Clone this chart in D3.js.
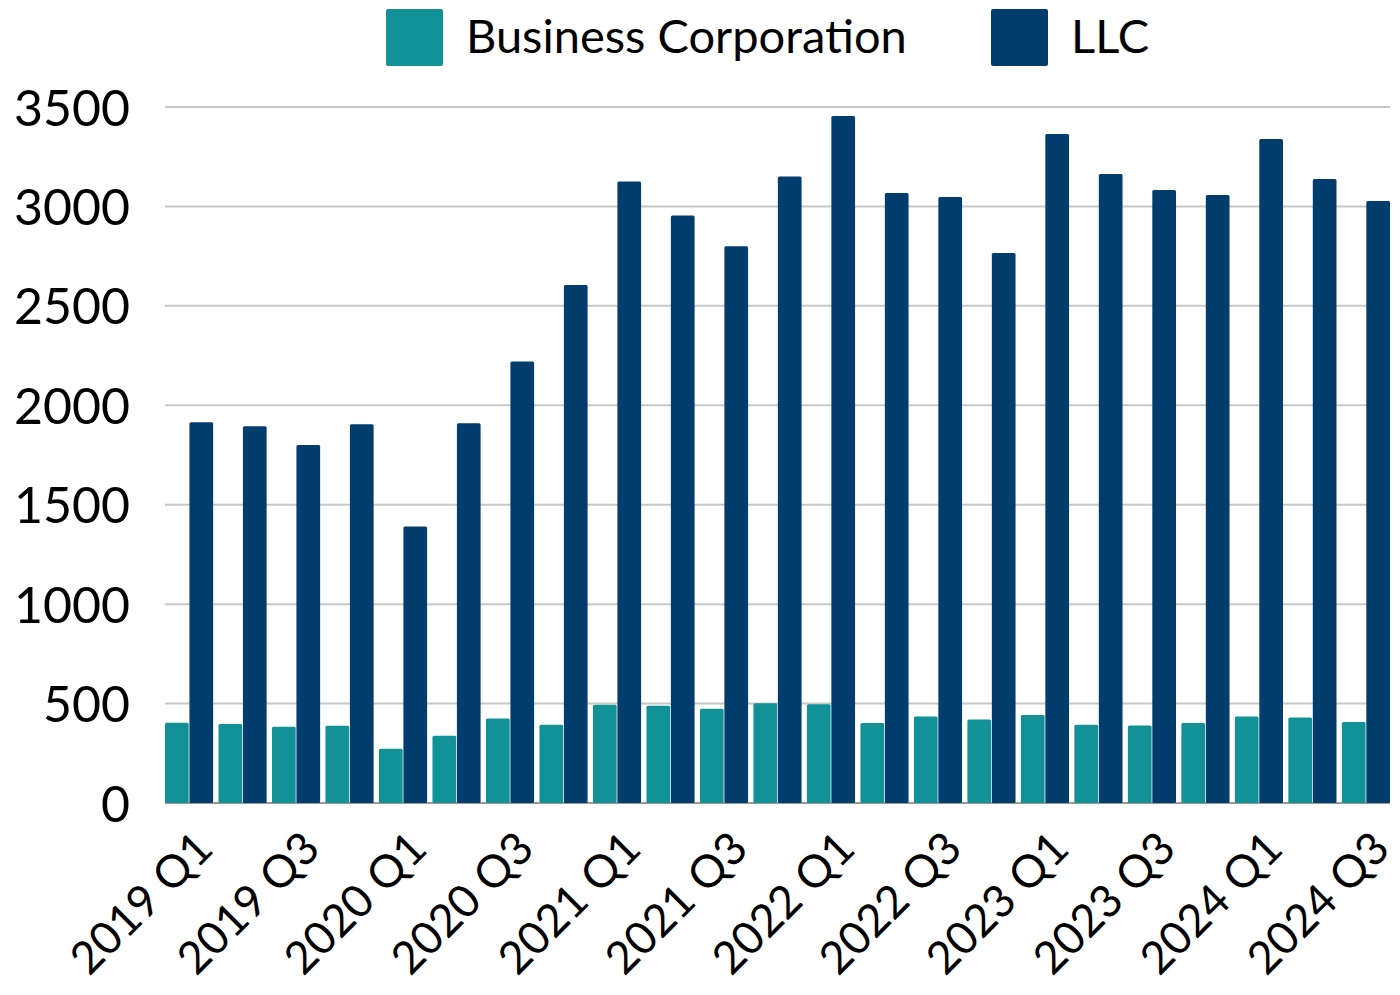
<!DOCTYPE html>
<html>
<head>
<meta charset="utf-8">
<script src="https://cdn.jsdelivr.net/npm/d3@7"></script>
<style>
  body { margin: 0; background: #fff; }
  text { font-family: Lato, "Open Sans", sans-serif; fill: #000; }
</style>
</head>
<body>
<svg id="chart" width="1400" height="995"></svg>
<script>
// quarters shown on the x axis
var quarters = ["2019 Q1","2019 Q2","2019 Q3","2019 Q4","2020 Q1","2020 Q2","2020 Q3","2020 Q4",
  "2021 Q1","2021 Q2","2021 Q3","2021 Q4","2022 Q1","2022 Q2","2022 Q3","2022 Q4",
  "2023 Q1","2023 Q2","2023 Q3","2023 Q4","2024 Q1","2024 Q2","2024 Q3"];
var seriesNames = ["Business Corporation", "LLC"];
var businessCorp = [403, 397, 383, 388, 273, 338, 425, 393, 494, 489, 474, 502, 497, 402, 435, 420,
  442, 393, 390, 402, 435, 430, 407];
var llc = [1915, 1895, 1800, 1905, 1390, 1910, 2220, 2605, 3125, 2955, 2800, 3150, 3455, 3067, 3047, 2766,
  3364, 3163, 3083, 3057, 3339, 3138, 3027];
var yTicks = [0, 500, 1000, 1500, 2000, 2500, 3000, 3500];
var colors = ["#129296", "#033d6e"];

var svg = d3.select("#chart");
var margin = {top: 107, right: 10, bottom: 192, left: 165};
var width = 1400 - margin.left - margin.right;
var height = 995 - margin.top - margin.bottom;
var g = svg.append("g").attr("transform", `translate(${margin.left}, ${margin.top})`);

var x0 = d3.scaleBand().domain(quarters).range([0, width]).paddingInner(0.1).paddingOuter(0);
var x1 = d3.scaleBand().domain(seriesNames).range([0, x0.bandwidth()]).paddingInner(0.03);
var y = d3.scaleLinear().domain([0, 3500]).range([height, 0]);

// gridlines
g.append("g")
  .selectAll("line")
  .data(yTicks)
  .enter()
  .append("line")
  .attr("x1", 0)
  .attr("x2", width)
  .attr("y1", d => y(d))
  .attr("y2", d => y(d))
  .attr("stroke", d => d === 0 ? "#999" : "#c8c8c8")
  .attr("stroke-width", 2);

// y axis labels
var yAxis = g.append("g")
  .call(d3.axisLeft(y).tickValues(yTicks).tickFormat(d3.format("d")).tickSize(0).tickPadding(35));
yAxis.select(".domain").remove();
yAxis.selectAll("text")
  .style("font-size", "50px")
  .attr("dy", "0.36em");

var rows = quarters.map((q, i) => ({q: q, values: [businessCorp[i], llc[i]]}));

var groups = g.append("g")
  .selectAll("g")
  .data(rows)
  .enter()
  .append("g")
  .attr("transform", d => `translate(${x0(d.q)}, 0)`);

groups.selectAll("rect")
  .data(d => d.values.map((v, k) => ({key: seriesNames[k], value: v, k: k})))
  .enter()
  .append("rect")
  .attr("x", d => x1(d.key))
  .attr("width", x1.bandwidth())
  .attr("y", d => y(d.value))
  .attr("height", d => height - y(d.value))
  .attr("rx", 1.5)
  .attr("fill", d => colors[d.k]);

// x axis labels, every other quarter
var xAxis = g.append("g")
  .attr("transform", `translate(0, ${height})`)
  .call(d3.axisBottom(x0).tickValues(quarters.filter((q, i) => i % 2 === 0)).tickSize(0));
xAxis.select(".domain").remove();
xAxis.selectAll("text")
  .style("font-size", "45px")
  .attr("text-anchor", "end")
  .attr("dy", 0)
  .attr("transform", "translate(24, 46) rotate(-45)");

// legend
var legend = svg.append("g");
var legendX = [386, 991];
seriesNames.forEach(function (name, i) {
  legend.append("rect")
    .attr("x", legendX[i]).attr("y", 9)
    .attr("width", 57).attr("height", 57)
    .attr("rx", 2)
    .attr("fill", colors[i]);
  legend.append("text")
    .attr("x", legendX[i] + 80).attr("y", 53)
    .style("font-size", "47px")
    .text(name);
});
</script>
</body>
</html>
